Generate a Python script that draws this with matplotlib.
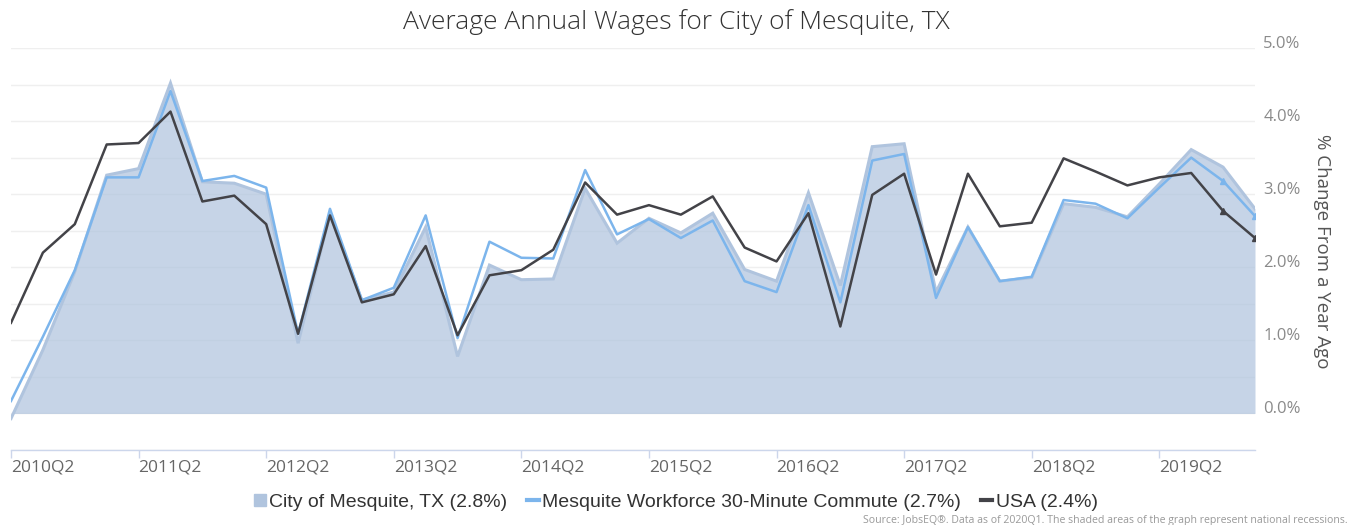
import matplotlib
matplotlib.use("Agg")
import matplotlib.pyplot as plt
from matplotlib.lines import Line2D
from matplotlib.ticker import MultipleLocator

# ---- data ----
years = list(range(2010, 2021))
quarters = []
for y in years:
    for q in (1, 2, 3, 4):
        if (y == 2010 and q < 2) or (y == 2020 and q > 1):
            continue
        quarters.append(f"{y}Q{q}")

city = [-0.07, 0.87, 1.94, 3.26, 3.35, 4.52, 3.17, 3.15, 3.00, 0.96,
        2.73, 1.55, 1.66, 2.55, 0.78, 2.03, 1.83, 1.84, 3.08, 2.33,
        2.67, 2.47, 2.74, 1.97, 1.81, 3.02, 1.75, 3.65, 3.69, 1.66,
        2.55, 1.81, 1.86, 2.87, 2.82, 2.69, 3.14, 3.61, 3.37, 2.80]
commute = [0.17, 1.05, 1.96, 3.23, 3.23, 4.41, 3.18, 3.25, 3.09, 1.09,
           2.80, 1.55, 1.72, 2.71, 1.03, 2.35, 2.13, 2.12, 3.33, 2.45,
           2.66, 2.40, 2.64, 1.81, 1.66, 2.85, 1.52, 3.46, 3.55, 1.58,
           2.55, 1.81, 1.87, 2.92, 2.87, 2.67, 3.09, 3.50, 3.18, 2.70]
usa = [1.24, 2.20, 2.59, 3.68, 3.70, 4.13, 2.90, 2.98, 2.59, 1.09,
       2.71, 1.52, 1.63, 2.29, 1.07, 1.89, 1.96, 2.24, 3.16, 2.72,
       2.85, 2.72, 2.97, 2.27, 2.08, 2.74, 1.19, 2.99, 3.28, 1.90,
       3.28, 2.56, 2.61, 3.49, 3.31, 3.12, 3.23, 3.29, 2.77, 2.40]

series_names = ["City of Mesquite, TX (2.8%)",
                "Mesquite Workforce 30-Minute Commute (2.7%)",
                "USA (2.4%)"]
title = "Average Annual Wages for City of Mesquite, TX"
y_label = "% Change From a Year Ago"
y_ticks = [0, 1, 2, 3, 4, 5]
y_tick_labels = ["0.0%", "1.0%", "2.0%", "3.0%", "4.0%", "5.0%"]
source = ("Source: JobsEQ\u00ae. Data as of 2020Q1. The shaded areas of the graph "
          "represent national recessions.")

# ---- style ----
AREA = "#b0c4de"
BLUE = "#7cb5ec"
DARK = "#434348"
FONT = ["Open Sans", "DejaVu Sans"]

fig = plt.figure(figsize=(13.5, 5.25), dpi=100)
W, H = 1350, 525
left, right, top, bottom = 11, 1255, 48, 450
ax = fig.add_axes([left / W, 1 - bottom / H, (right - left) / W, (bottom - top) / H])

x = list(range(len(quarters)))

ax.fill_between(x, city, 0, color=AREA, alpha=0.72, lw=0, zorder=2)
ax.plot(x, city, color=AREA, lw=2.2, zorder=3, solid_joinstyle="miter")
ax.plot(x, commute, color=BLUE, lw=1.8, zorder=4)
ax.plot(x, usa, color=DARK, lw=1.8, zorder=5)
# small end markers on the latest points
ax.plot(x[-2:], commute[-2:], color=BLUE, lw=0, marker="^", markersize=4, zorder=4)
ax.plot(x[-2:], usa[-2:], color=DARK, lw=0, marker="^", markersize=4, zorder=5)

ax.set_xlim(0, len(quarters) - 1)
ax.set_ylim(-0.5, 5.0)

# grid
ax.yaxis.set_minor_locator(MultipleLocator(0.5))
ax.grid(which="both", axis="y", color="#efefef", lw=1.0, zorder=0)
ax.set_axisbelow(True)

for s in ("top", "left", "right"):
    ax.spines[s].set_visible(False)
ax.spines["bottom"].set_color("#ccd6eb")
ax.spines["bottom"].set_linewidth(1.0)

# x ticks
xt = [i for i, q in enumerate(quarters) if q.endswith("Q2")]
ax.set_xticks(xt)
ax.set_xticklabels([quarters[i] for i in xt], fontsize=12.5, color="#666666",
                   family=FONT, ha="left")
ax.tick_params(axis="x", which="major", length=6, width=1, color="#ccd6eb", pad=1)

# y ticks on right
ax.yaxis.tick_right()
ax.set_yticks(y_ticks)
ax.set_yticklabels(y_tick_labels, fontsize=12, color="#8a8a8a", family=FONT)
for lab in ax.get_yticklabels():
    lab.set_verticalalignment("baseline")
ax.tick_params(axis="y", which="both", length=0, pad=6)

fig.text(1322 / W, 1 - 251 / H, y_label, rotation=270, ha="center", va="center",
         fontsize=13.5, color="#555555", family=FONT)

fig.text(676 / W, 1 - 22 / H, title, ha="center", va="center", fontsize=19,
         color="#333333", family=FONT, fontweight="light")

handles = [
    Line2D([], [], color=AREA, marker="s", markersize=8, lw=0),
    Line2D([], [], color=BLUE, lw=3),
    Line2D([], [], color=DARK, lw=3),
]
leg = fig.legend(handles, series_names, loc="center", ncol=3,
                 bbox_to_anchor=(676 / W, 1 - 502 / H), frameon=False,
                 handlelength=0.6, handletextpad=0.2, columnspacing=1.0,
                 prop={"family": ["Liberation Sans Narrow", "Liberation Sans", "DejaVu Sans"], "size": 14})
for t in leg.get_texts():
    t.set_color("#333333")

fig.text(1348 / W, 1 - 521 / H, source, ha="right", va="center", fontsize=7.6,
         color="#999999", family=FONT)

fig.savefig("out.png", dpi=100)
